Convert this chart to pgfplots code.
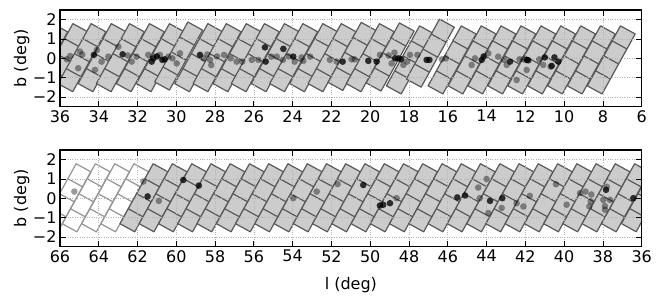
\documentclass[border=0pt]{standalone}
\usepackage{fontspec}
\setmainfont{DejaVu Sans}
\usepackage{pgfplots}
\pgfplotsset{compat=1.18}
\usepackage{pgfplotstable}

% tile shape in local cell units (u across, v along the long side)
\pgfplotstableread{
u v
-0.5 -2
0.5 -2
0.5 2
-0.5 2
-0.5 -2
}\tilefilltab
\pgfplotstableread{
u v
-0.5 -2
0.5 -2
0.5 2
-0.5 2
-0.5 -2
-0.5 -1
0.5 -1
0.5 0
-0.5 0
-0.5 1
0.5 1
}\tileedgetab

\newcommand\gtile[2]{%
  \addplot[draw=none, fill=black!20] table[x expr={#1+(\thisrow{u})*(-0.762)+(\thisrow{v})*(0.4275)}, y expr={#2+(\thisrow{u})*(-0.42)+(\thisrow{v})*(-0.775)}] {\tilefilltab};
  \addplot[draw=black!65, line width=1.2pt, line join=round] table[x expr={#1+(\thisrow{u})*(-0.762)+(\thisrow{v})*(0.4275)}, y expr={#2+(\thisrow{u})*(-0.42)+(\thisrow{v})*(-0.775)}] {\tileedgetab};
}
\newcommand\wtile[2]{%
  \addplot[draw=black!42, line width=1.2pt, line join=round] table[x expr={#1+(\thisrow{u})*(-0.762)+(\thisrow{v})*(0.4275)}, y expr={#2+(\thisrow{u})*(-0.42)+(\thisrow{v})*(-0.775)}] {\tileedgetab};
}

\pgfplotsset{
  panel/.style={
    scale only axis, width=581.7pt, height=96.7pt,
    x dir=reverse, ymin=-2.5, ymax=2.5,
    ytick={-2,-1,0,1,2}, yticklabels={−2,−1,0,1,2},
    grid=major, major grid style={dotted, black!30, line width=0.7pt},
    major tick length=6pt, tick style={black, line width=0.8pt},
    axis line style={line width=1.2pt},
    axis on top,
    /pgf/number format/assume math mode=true,
    tick label style={font=\fontsize{16}{19}\selectfont},
    ylabel={b (deg)},
    every axis y label/.style={at={(axis description cs:-0.066,0.5)}, rotate=90, anchor=center, font=\fontsize{16}{19}\selectfont},
    every axis x label/.style={at={(axis description cs:0.5,-0.40)}, anchor=center, font=\fontsize{16}{19}\selectfont},
    clip=true,
  },
  grey pts/.style={only marks, mark=*, mark size=3.3pt, draw opacity=0, fill=black, fill opacity=0.4,
     mark options={line width=0pt, draw opacity=0, fill=black, fill opacity=0.4}},
  dark pts/.style={only marks, mark=*, mark size=3.3pt, draw opacity=0, fill=black, fill opacity=0.78,
     mark options={line width=0pt, draw opacity=0, fill=black, fill opacity=0.78}},
}

\begin{document}
\begin{tikzpicture}
% ---------------- top panel ----------------
\begin{axis}[panel, at={(0pt,0pt)}, anchor=north west,
  xmin=6, xmax=36, xtick={6,8,...,36}]
\gtile{36.84}{0.03}
\gtile{35.81}{0.035}
\gtile{34.87}{0.035}
\gtile{33.83}{0.035}
\gtile{32.89}{0.035}
\gtile{31.86}{0.035}
\gtile{30.83}{0.035}
\gtile{29.88}{0.12}
\gtile{28.85}{0.035}
\gtile{27.90}{0.035}
\gtile{26.87}{0.035}
\gtile{25.93}{0.035}
\gtile{24.90}{0.035}
\gtile{23.95}{0.035}
\gtile{22.92}{0.035}
\gtile{21.97}{0.035}
\gtile{20.94}{0.10}
\gtile{20.00}{0.035}
\gtile{18.97}{0.07}
\gtile{17.93}{-0.08}
\gtile{16.90}{0.27}
\gtile{15.78}{-0.08}
\gtile{14.75}{-0.08}
\gtile{13.73}{-0.08}
\gtile{12.70}{-0.08}
\gtile{11.67}{-0.08}
\gtile{10.65}{-0.08}
\gtile{9.62}{-0.08}
\gtile{8.60}{-0.08}
\gtile{7.57}{-0.08}
\addplot[grey pts] coordinates {
(35.48,0.12) (35.65,-0.05) (35.06,-0.51) (34.97,0.35) (34.85,0.2) (34.1,0.43)
(34.2,-0.6) (33.85,-0.17) (33.5,0.09) (32.99,0.6) (32.5,0.15) (32.3,-0.17)
(32.05,0.09) (31.45,0.18) (30.85,0.18) (30.41,0.09) (30.2,0.0) (29.98,-0.26)
(29.81,0.26) (28.6,0.0) (28.4,0.2) (28.26,-0.08) (28.2,-0.35) (27.9,0.1)
(27.54,0.18) (27.2,0.0) (26.89,-0.17) (26.6,-0.17) (26.11,-0.08) (25.77,-0.08)
(25.1,0.09) (24.82,0.09) (24.5,-0.08) (24.2,0.1) (23.9,-0.17) (23.54,0.05)
(23.45,-0.13) (23.1,0.09) (22.08,-0.08) (21.73,-0.17) (20.96,-0.05) (20.8,-0.05)
(19.5,0.18) (19.05,0.15) (18.9,-0.26) (18.75,0.3) (18.29,-0.34) (18.1,-0.17)
(17.95,0.18) (17.57,0.18) (16.31,-0.05) (16.1,0.0) (14.77,-0.34) (14.6,0.0)
(13.91,0.26) (13.4,0.09) (13.1,-0.08) (12.96,-0.34) (12.45,-1.12) (12.3,-0.05)
(12.1,-0.05) (11.93,-0.6) (11.28,-0.05) (11.08,-0.34) (10.7,-0.43)
};
\addplot[dark pts] coordinates {
(34.25,0.18) (32.77,0.21) (31.19,0.0) (31.0,0.1) (31.27,-0.17) (30.72,-0.08)
(30.6,-0.05) (28.78,0.18) (25.43,0.57) (25.39,-0.17) (24.48,0.49) (23.97,0.09)
(21.42,-0.17) (20.1,-0.13) (19.67,-0.17) (18.72,0.0) (18.55,0.0) (18.4,-0.05)
(17.09,-0.08) (16.95,-0.08) (14.25,-0.08) (14.15,0.1) (12.79,-0.17) (11.93,-0.08)
(11.85,-0.1) (11.0,0.05) (10.64,-0.39) (10.5,0.05) (10.3,-0.17)
};
\end{axis}
% ---------------- bottom panel ----------------
\begin{axis}[panel, at={(0pt,-140pt)}, anchor=north west,
  xmin=36, xmax=66, xtick={36,38,...,66}, xlabel={l (deg)}]
\wtile{65.64}{0.03}
\wtile{64.65}{0.03}
\wtile{63.65}{0.03}
\wtile{62.66}{0.03}
\gtile{61.67}{0.03}
\gtile{60.68}{0.03}
\gtile{59.68}{0.03}
\gtile{58.69}{0.03}
\gtile{57.70}{0.03}
\gtile{56.70}{0.03}
\gtile{55.71}{0.03}
\gtile{54.72}{0.03}
\gtile{53.72}{0.03}
\gtile{52.73}{0.03}
\gtile{51.74}{0.03}
\gtile{50.75}{0.03}
\gtile{49.75}{0.03}
\gtile{48.76}{0.03}
\gtile{47.77}{0.03}
\gtile{46.77}{0.03}
\gtile{45.78}{0.03}
\gtile{44.79}{0.03}
\gtile{43.79}{0.03}
\gtile{42.80}{0.03}
\gtile{41.81}{0.03}
\gtile{40.81}{0.03}
\gtile{39.82}{0.03}
\gtile{38.83}{0.03}
\gtile{37.84}{0.03}
\gtile{36.84}{0.03}
\gtile{35.81}{0.035}
\addplot[grey pts] coordinates {
(65.26,0.35) (61.7,0.87) (60.9,-0.13) (53.97,0.01) (52.76,0.35) (51.68,0.74)
(48.64,0.01) (44.43,0.56) (44.0,1.0) (44.35,0.01) (43.91,-0.76) (43.22,-0.5)
(42.45,-0.25) (42.1,-0.42) (41.77,0.13) (40.42,0.73) (39.87,-0.33) (39.18,0.27)
(38.9,0.35) (38.6,0.2) (38.63,-0.16) (38.7,-0.42) (37.8,0.6) (37.98,-0.08)
(37.9,-0.4) (37.89,-0.59) (37.64,-0.08)
};
\addplot[dark pts] coordinates {
(61.48,0.1) (59.64,0.95) (58.84,0.66) (50.36,0.69) (49.5,-0.37) (49.33,-0.33)
(48.98,-0.25) (45.51,0.05) (45.11,0.15) (43.82,-0.13) (43.19,0.01) (37.84,0.44)
(36.43,0.01)
};
\end{axis}
\pgfresetboundingbox
\path (-60pt,10pt) rectangle (601pt,-288pt);
\end{tikzpicture}
\end{document}
